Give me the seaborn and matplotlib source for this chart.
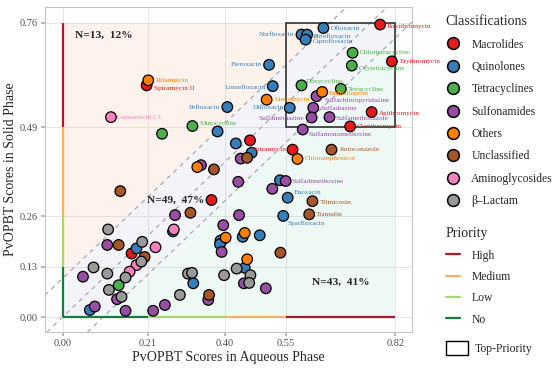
import numpy as np
import pandas as pd
import seaborn as sns
import matplotlib.pyplot as plt
from matplotlib.lines import Line2D
from matplotlib.patches import Patch, Rectangle

# ----------------------- Data -----------------------
classes = ["Macrolides", "Quinolones", "Tetracyclines", "Sulfonamides",
           "Others", "Unclassified", "Aminoglycosides", "\u03b2\u2013Lactam"]
class_colors = ["#E41A1C", "#377EB8", "#4DAF4A", "#984EA3",
                "#FF7F00", "#A65628", "#F781BF", "#999999"]

macro_x = [0.783, 0.812, 0.762, 0.709, 0.207, 0.567, 0.462, 0.367, 0.170, 0.395]
macro_y = [0.755, 0.660, 0.529, 0.492, 0.598, 0.432, 0.456, 0.302, 0.164, 0.200]
macro_names = ["Roxithromycin", "Erythromycin", "Azithromycin", "Clarithromycin",
               "Spiramycin II", "Spiramycin", "", "", "", ""]

quino_x = [0.643, 0.589, 0.603, 0.599, 0.509, 0.518, 0.406, 0.560, 0.555, 0.544,
           0.382, 0.427, 0.466, 0.536, 0.444, 0.486, 0.389, 0.388, 0.449, 0.272,
           0.182, 0.067, 0.322]
quino_y = [0.746, 0.729, 0.729, 0.716, 0.651, 0.596, 0.542, 0.540, 0.308, 0.261,
           0.479, 0.448, 0.424, 0.353, 0.207, 0.211, 0.197, 0.188, 0.127, 0.221,
           0.177, 0.018, 0.087]
quino_names = ["Ofloxacin", "Norfloxacin", "Enrofloxacin", "Ciprofloxacin",
               "Fleroxacin", "Lomefloxacin", "Pefloxacin", "Difloxacin",
               "Enoxacin", "Sparfloxacin"] + [""] * 13

tetra_x = [0.715, 0.713, 0.589, 0.686, 0.320, 0.245, 0.138]
tetra_y = [0.682, 0.649, 0.598, 0.589, 0.493, 0.473, 0.082]
tetra_names = ["Chlortetracycline", "Oxytetracycline", "Doxycycline",
               "Tetracycline", "Minocycline", "", ""]

sulfa_x = [0.626, 0.618, 0.614, 0.658, 0.592, 0.550, 0.439, 0.341, 0.433, 0.517,
           0.435, 0.277, 0.396, 0.392, 0.447, 0.501, 0.359, 0.110, 0.050, 0.134,
           0.252, 0.223, 0.155, 0.079]
sulfa_y = [0.570, 0.540, 0.515, 0.516, 0.484, 0.351, 0.409, 0.392, 0.349, 0.331,
           0.263, 0.263, 0.237, 0.168, 0.087, 0.074, 0.044, 0.186, 0.104, 0.046,
           0.031, 0.016, 0.016, 0.027]
sulfa_names = ["Sulfachloropyridazine", "Sulfadiazine", "Sulfamethazine",
               "Sulfamethoxazole", "Sulfamonomethoxine", "Sulfadimethoxine"] + [""] * 18

other_x = [0.211, 0.503, 0.640, 0.579, 0.332, 0.449, 0.402, 0.455]
other_y = [0.611, 0.561, 0.581, 0.408, 0.387, 0.217, 0.205, 0.149]
other_names = ["Rifampicin", "Lincomycin", "Trimethoprim", "Chloramphenicol",
               "", "", "", ""]

uncl_x = [0.663, 0.616, 0.608, 0.455, 0.373, 0.142, 0.315, 0.138, 0.202, 0.537, 0.361]
uncl_y = [0.432, 0.299, 0.265, 0.411, 0.381, 0.325, 0.269, 0.186, 0.155, 0.166, 0.057]
uncl_names = ["Ketoconazole", "Tilmicosin", "Tiamulin"] + [""] * 8

amino_x = [0.119, 0.274, 0.229, 0.182, 0.165]
amino_y = [0.516, 0.226, 0.180, 0.134, 0.117]
amino_names = ["Gentamicin C1", "", "", "", ""]

blact_x = [0.112, 0.196, 0.194, 0.076, 0.110, 0.155, 0.114, 0.145, 0.289, 0.309,
           0.319, 0.429, 0.398, 0.463, 0.460]
blact_y = [0.226, 0.194, 0.143, 0.128, 0.112, 0.102, 0.070, 0.052, 0.057, 0.112,
           0.114, 0.125, 0.108, 0.108, 0.088]
blact_names = [""] * 15

# priority thresholds on both axes
x_breaks = [0.00, 0.21, 0.40, 0.55, 0.82]
y_breaks = [0.00, 0.13, 0.26, 0.49, 0.76]
priority_levels = ["No", "Low", "Medium", "High"]
priority_colors = ["#1B7A3E", "#A6D96A", "#FDAE61", "#B2182B"]

band_offsets = [-0.1, 0.0, 0.1]
counts = {"upper": "N=13,  12%", "band": "N=49,  47%", "lower": "N=43,  41%"}

# ----------------------- Build the table -----------------------
parts = [
    (classes[0], macro_x, macro_y, macro_names),
    (classes[1], quino_x, quino_y, quino_names),
    (classes[2], tetra_x, tetra_y, tetra_names),
    (classes[3], sulfa_x, sulfa_y, sulfa_names),
    (classes[4], other_x, other_y, other_names),
    (classes[5], uncl_x, uncl_y, uncl_names),
    (classes[6], amino_x, amino_y, amino_names),
    (classes[7], blact_x, blact_y, blact_names),
]
df = pd.concat([pd.DataFrame({"cls": c, "aq": xs, "solid": ys, "name": ns})
                for c, xs, ys, ns in parts], ignore_index=True)
palette = dict(zip(classes, class_colors))

# label offsets in pixels (dx, dy)
label_offsets = {
    "Rifampicin": (7, 0), "Spiramycin II": (7, -3), "Gentamicin C1": (6, 0),
    "Pefloxacin": (-7, 0), "Minocycline": (7, 3), "Ofloxacin": (7, 0),
    "Roxithromycin": (7, -2), "Norfloxacin": (-7, 0), "Enrofloxacin": (6, -2),
    "Ciprofloxacin": (7, -2), "Chlortetracycline": (7, 0), "Erythromycin": (8, 0),
    "Oxytetracycline": (7, -3), "Fleroxacin": (-7, 0), "Lomefloxacin": (-7, -1),
    "Doxycycline": (4, 4), "Tetracycline": (7, -1), "Trimethoprim": (6, -2),
    "Sulfachloropyridazine": (8, -4), "Lincomycin": (8, 0), "Difloxacin": (-6, 0),
    "Sulfadiazine": (7, -1), "Azithromycin": (7, -1), "Sulfamethazine": (-7, -1),
    "Sulfamethoxazole": (6, -1), "Clarithromycin": (7, 0),
    "Sulfamonomethoxine": (6, -5), "Spiramycin": (-6, 0), "Chloramphenicol": (7, 0),
    "Ketoconazole": (8, 0), "Sulfadimethoxine": (6, 0), "Enoxacin": (6, 5),
    "Tilmicosin": (7, -1), "Tiamulin": (7, 0), "Sparfloxacin": (4, -7),
}

# ----------------------- Plot -----------------------
sns.set_theme(style="whitegrid")
plt.rcParams['font.family'] = ['Liberation Serif', 'DejaVu Serif']

fig = plt.figure(figsize=(5.54, 3.74), dpi=100)
ax = fig.add_axes([0.081, 0.112, 0.663, 0.869])

xmax, ymax = x_breaks[-1], y_breaks[-1]
lo, up = band_offsets[0], band_offsets[-1]
# shaded regions
ax.fill([0, -lo, xmax, xmax, ymax - up, 0, 0],
        [0, 0, xmax + lo, ymax, ymax, up, 0], color="#8DA0CB", alpha=0.11, lw=0, zorder=1)
ax.fill([0, 0, ymax - up], [up, ymax, ymax], color="#FC8D62", alpha=0.11, lw=0, zorder=1)
ax.fill([-lo, xmax, xmax], [0, 0, xmax + lo], color="#66C2A5", alpha=0.11, lw=0, zorder=1)

for c in band_offsets:
    ax.axline((0, c), slope=1, ls=(0, (4, 4)), color="#A0A0A0", lw=0.8, zorder=2)

# priority segments
for i, col in enumerate(priority_colors):
    ax.plot([0, 0], [y_breaks[i], y_breaks[i + 1]], color=col, lw=1.6,
            solid_capstyle='butt', zorder=3)
    ax.plot([x_breaks[i], x_breaks[i + 1]], [0, 0], color=col, lw=1.6,
            solid_capstyle='butt', zorder=3)

ax.add_patch(Rectangle((x_breaks[3], y_breaks[3]), xmax - x_breaks[3], ymax - y_breaks[3],
                       fill=False, edgecolor="#333333", lw=1.2, zorder=4))

sns.scatterplot(data=df, x="aq", y="solid", hue="cls", hue_order=classes, palette=palette,
                s=58, edgecolor="black", linewidth=0.9, legend=False, ax=ax, zorder=5)

for _, r in df[df["name"] != ""].iterrows():
    dx, dy = label_offsets.get(r["name"], (7, 0))
    ax.annotate(r["name"], (r["aq"], r["solid"]), xytext=(dx, dy), textcoords='offset pixels',
                ha='left' if dx >= 0 else 'right', va='center', fontsize=5.2,
                color=palette[r["cls"]], zorder=6)

ax.text(0.030, 0.727, counts["upper"], fontsize=8.2, fontweight='bold', va='center', zorder=6)
ax.text(0.209, 0.300, counts["band"], fontsize=8.2, fontweight='bold', va='center', zorder=6)
ax.text(0.614, 0.089, counts["lower"], fontsize=8.2, fontweight='bold', va='center', zorder=6)

ax.set_xlim(-0.044, 0.862)
ax.set_ylim(-0.039, 0.80)
ax.set_xticks(x_breaks)
ax.set_yticks(y_breaks)
ax.set_xticklabels([f"{v:.2f}" for v in x_breaks])
ax.set_yticklabels([f"{v:.2f}" for v in y_breaks])
ax.tick_params(labelsize=7.5, labelcolor="#4D4D4D", length=3, color="#B0B0B0",
               bottom=True, left=True, pad=2)
ax.grid(color="#E6E6E6", lw=0.7)
ax.set_axisbelow(True)
for sp in ax.spines.values():
    sp.set_color("#C4C4C4")
    sp.set_linewidth(0.8)
ax.set_xlabel("PvOPBT Scores in Aqueous Phase", fontsize=10, labelpad=2)
ax.set_ylabel("PvOPBT Scores in Solid Phase", fontsize=10, labelpad=2)

# ----------------------- Legends -----------------------
h1 = [Line2D([], [], marker='o', ls='', markersize=8.5, markerfacecolor=c,
             markeredgecolor='black', markeredgewidth=1.1) for c in class_colors]
leg1 = fig.legend(h1, classes, title="Classifications", loc='upper left',
                  bbox_to_anchor=(0.796, 0.972), frameon=False, fontsize=8.4,
                  title_fontsize=10, alignment='left', handlelength=1.2,
                  handletextpad=1.0, labelspacing=0.89, borderaxespad=0)

h2 = [Line2D([], [], color=c, lw=1.6) for c in priority_colors[::-1]]
leg2 = fig.legend(h2, priority_levels[::-1], title="Priority", loc='upper left',
                  bbox_to_anchor=(0.796, 0.405), frameon=False, fontsize=8.4,
                  title_fontsize=10, alignment='left', handlelength=1.2,
                  handletextpad=1.0, labelspacing=0.8, borderaxespad=0)

h3 = [Patch(facecolor='white', edgecolor='black', lw=1.0)]
leg3 = fig.legend(h3, ["Top-Priority"], loc='upper left', bbox_to_anchor=(0.796, 0.10),
                  frameon=False, fontsize=8.4, handlelength=1.9, handleheight=1.4,
                  handletextpad=0.6, borderaxespad=0)

fig.savefig("out.png", dpi=100)
